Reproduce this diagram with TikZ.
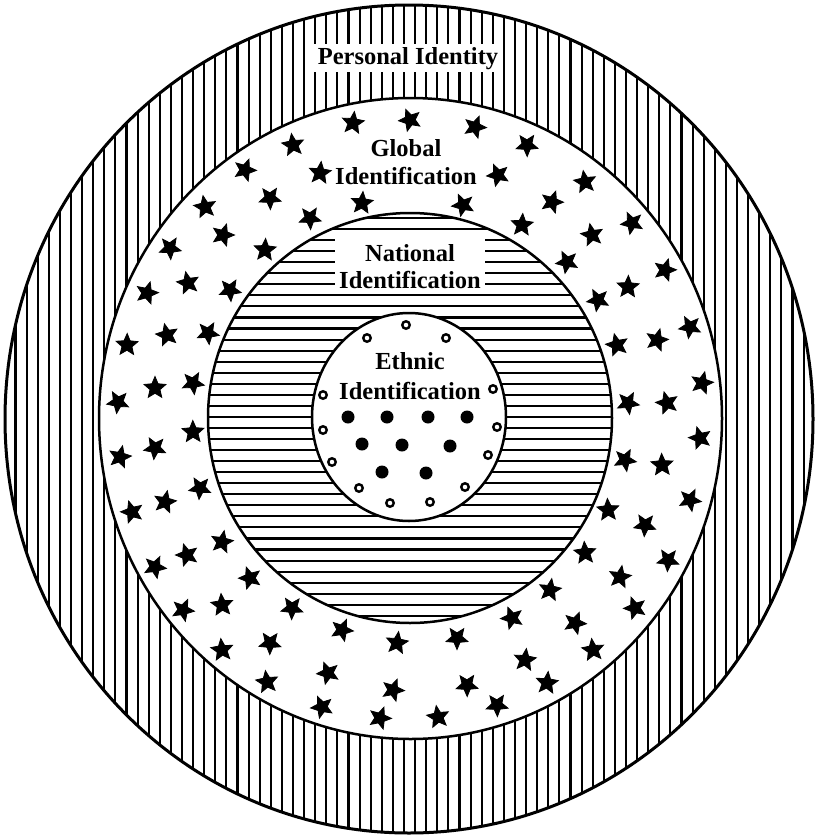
\documentclass[tikz,border=0pt]{standalone}
\usepackage{fontspec}
\setmainfont{Liberation Serif}
\usetikzlibrary{shapes.geometric}
\begin{document}
\begin{tikzpicture}[x=1pt,y=-1pt,
  ring/.style={line width=2.5pt},
  hatchline/.style={line width=2.1pt},
  starmark/.style={star, star points=5, star point ratio=2.2, fill=black, draw=black, line width=0.8pt, inner sep=0pt, minimum size=23pt},
  fulldot/.style={circle, fill=black, inner sep=0pt, minimum size=13pt},
  opendot/.style={circle, draw=black, line width=2.4pt, inner sep=0pt, minimum size=7.5pt},
  lbl/.style={font=\fontsize{24.5}{27}\selectfont\bfseries, inner sep=0pt, anchor=base}
]
\useasboundingbox (0,0) rectangle (815,835);
% outer band with vertical hatching
\begin{scope}
  \clip (409,419) ellipse [x radius=404, y radius=414];
  \foreach \k in {-37,...,37} \draw[hatchline] ({404+11.1*\k},0) -- ++(0,835);
\end{scope}
\fill[white] (410.5,418.5) ellipse [x radius=311.5, y radius=320.5];
\draw[ring, line width=3pt] (409,419) ellipse [x radius=404, y radius=414];
\draw[ring] (410.5,418.5) ellipse [x radius=311.5, y radius=320.5];
% national disc with horizontal hatching
\begin{scope}
  \clip (410,418) ellipse [x radius=202, y radius=205];
  \foreach \k in {0,...,37} \draw[hatchline] (0,{218+11.05*\k}) -- ++(815,0);
\end{scope}
\draw[ring] (410,418) ellipse [x radius=202, y radius=205];
% ethnic disc
\fill[white] (409,417) ellipse [x radius=97, y radius=104];
\draw[ring] (409,417) ellipse [x radius=97, y radius=104];
% labels
\node[lbl, fill=white, inner xsep=4pt, inner ysep=3pt] (personal) at (408,64) {Personal Identity};
\node[lbl] (global1) at (406,156) {Global};
\node[lbl] (global2) at (406,184) {Identification};
\node[lbl, fill=white, minimum width=150pt, inner ysep=5pt] (national1) at (410,261) {National};
\node[lbl, fill=white, minimum width=150pt, inner ysep=5pt] (national2) at (410,288) {Identification};
\node[lbl] (ethnic1) at (410,369) {Ethnic};
\node[lbl] (ethnic2) at (410,399) {Identification};
% stars
\foreach [count=\i] \p in {(353,123),(410,120),(475,127),
(293,145),(527,145),(320,173),(498,175),(245,170),(585,182),
(270,198),(362,203),(463,205),(552,202),(205,207),(310,218),(522,225),(632,223),
(223,235),(592,235),(170,248),(265,250),(567,262),(665,270),
(188,283),(230,290),(628,287),(598,300),(147,293),
(167,335),(208,333),(127,345),(690,327),(657,340),(617,345),
(193,383),(155,388),(118,402),(702,383),(667,403),(628,403),
(193,432),(155,448),(120,457),(700,438),(625,460),(662,465),
(200,488),(165,502),(132,512),(690,500),(608,510),(645,525),
(222,542),(187,555),(155,567),(585,553),(668,560),(620,577),
(250,578),(183,610),(222,605),(292,608),(550,590),(635,608),
(342,630),(222,650),(270,643),(397,643),(512,618),(575,623),(593,650),(457,638),(525,660),
(328,673),(393,690),(267,682),(467,685),(547,683),
(322,707),(380,718),(438,717),(497,705)}
  \node[starmark, rotate={mod(\i*29,72)-36}] (s\i) at \p {};
% ethnic dots
\foreach [count=\i] \p in {(406,325),(367,338),(446,338),(323,395),(493,389),(323,430),
(332,462),(488,455),(359,488),(465,487),(390,503),(430,502),(497,427)}
  \node[opendot] (o\i) at \p {};
\foreach [count=\i] \p in {(348,417),(387,417),(428,417),(467,417),
(362,444),(402,445),(450,446),(382,472),(426,473)}
  \node[fulldot] (f\i) at \p {};
\end{tikzpicture}
\end{document}
